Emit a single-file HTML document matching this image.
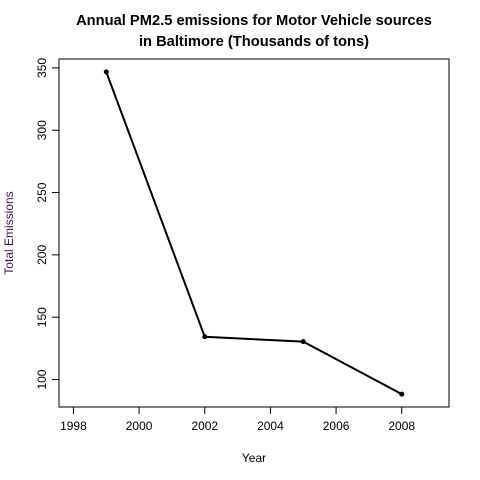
<!DOCTYPE html>
<html><head><meta charset="utf-8"><style>
body{margin:0;background:#fff;}
svg{display:block;font-family:"Liberation Sans",Arial,sans-serif;}
</style></head><body>
<svg id="chart" width="480" height="480">
<text x="254" y="25" text-anchor="middle" font-weight="bold" font-size="14.7">Annual PM2.5 emissions for Motor Vehicle sources</text>
<text x="254" y="46" text-anchor="middle" font-weight="bold" font-size="14.7">in Baltimore (Thousands of tons)</text>
<rect x="59" y="59" width="390" height="348" fill="none" stroke="#000"/>
<g id="xaxis"></g>
<g id="yaxis"></g>
<g id="series"></g>
<text x="254" y="462" text-anchor="middle" font-size="12">Year</text>
<text transform="translate(13,233) rotate(-90)" text-anchor="middle" font-size="12" fill="#3f1450">Total Emissions</text>
</svg>
<script>
const years=[1999,2002,2005,2008];
const emissions=[346.8,134.3,130.4,88.3];
const xTicks=[1998,2000,2002,2004,2006,2008];
const yTicks=[100,150,200,250,300,350];
const NS="http://www.w3.org/2000/svg";
const X0=59,X1=449,Y0=407,Y1=59;
const xmin=1997.56,xmax=2009.44,ymin=77.96,ymax=357.14;
function xs(v){return X0+(v-xmin)/(xmax-xmin)*(X1-X0);}
function ys(v){return Y0-(v-ymin)/(ymax-ymin)*(Y0-Y1);}
function mk(t,a,p){const e=document.createElementNS(NS,t);for(const k in a)e.setAttribute(k,a[k]);p.appendChild(e);return e;}
const xa=document.getElementById('xaxis'),ya=document.getElementById('yaxis'),sg=document.getElementById('series');
mk('line',{x1:xs(xTicks[0]),x2:xs(xTicks[xTicks.length-1]),y1:Y0,y2:Y0,stroke:'#000'},xa);
xTicks.forEach(t=>{
 const l=mk('line',{x1:xs(t),x2:xs(t),y1:Y0,y2:Y0+7,stroke:'#000'},xa);
 
 
 const tx=mk('text',{x:xs(t),y:Y0+23,'text-anchor':'middle','font-size':12},xa);tx.textContent=t;
 
 
});
mk('line',{x1:X0,x2:X0,y1:ys(yTicks[0]),y2:ys(yTicks[yTicks.length-1]),stroke:'#000'},ya);
yTicks.forEach(t=>{
 const l=mk('line',{x1:X0-7,x2:X0,y1:ys(t),y2:ys(t),stroke:'#000'},ya);
 
 
 const tx=mk('text',{transform:`translate(${X0-13},${ys(t)}) rotate(-90)`,'text-anchor':'middle','font-size':12},ya);tx.textContent=t;
 
 
});
const pl=mk('polyline',{points:years.map((y,i)=>xs(y)+','+ys(emissions[i])).join(' '),fill:'none',stroke:'#000','stroke-width':2},sg);


years.forEach((y,i)=>{
 const c=mk('circle',{cx:xs(y),cy:ys(emissions[i]),r:2.5,fill:'#000'},sg);
 
 
});
</script>
</body></html>
